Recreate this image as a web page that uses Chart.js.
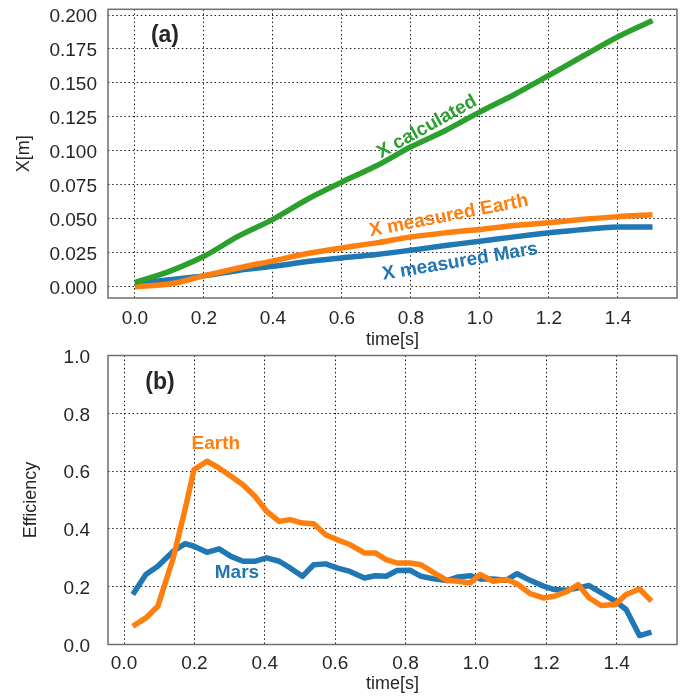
<!DOCTYPE html>
<html>
<head>
<meta charset="utf-8">
<script src="https://cdn.jsdelivr.net/npm/chart.js@4.4.1/dist/chart.umd.min.js"></script>
<style>
  body { margin: 0; background: #fff; }
  #wrap { position: relative; width: 684px; height: 696px; }
  canvas { position: absolute; left: 0; }
</style>
</head>
<body>
<div id="wrap">
  <canvas id="topChart" width="684" height="353" style="top:0"></canvas>
  <canvas id="bottomChart" width="684" height="366" style="top:330px"></canvas>
</div>
<script>
// (a) displacement
const topTime = [0.0, 0.1, 0.2, 0.3, 0.4, 0.5, 0.6, 0.7, 0.8, 0.9, 1.0, 1.1, 1.2, 1.3, 1.4, 1.5];
const xCalculated = [0.003, 0.0113, 0.0224, 0.0372, 0.0496, 0.0644, 0.077, 0.089, 0.103, 0.115, 0.1287, 0.1415, 0.1556, 0.170, 0.184, 0.196];
const xMeasuredEarth = [0.0, 0.002, 0.008, 0.0138, 0.019, 0.0244, 0.0286, 0.0323, 0.0367, 0.0397, 0.0422, 0.0451, 0.0471, 0.0496, 0.0516, 0.053];
const xMeasuredMars = [0.002, 0.0052, 0.008, 0.012, 0.015, 0.0185, 0.0212, 0.0237, 0.0269, 0.0303, 0.0335, 0.0367, 0.0397, 0.0422, 0.0439, 0.044];

// (b) efficiency
const effTime = [0.025, 0.062, 0.096, 0.14, 0.174, 0.199, 0.236, 0.27, 0.304, 0.338, 0.372, 0.405, 0.441, 0.472,
  0.507, 0.539, 0.573, 0.605, 0.642, 0.683, 0.714, 0.745, 0.776, 0.813, 0.844, 0.881, 0.918, 0.95, 0.984,
  1.012, 1.049, 1.086, 1.117, 1.154, 1.192, 1.223, 1.26, 1.291, 1.322, 1.356, 1.396, 1.427, 1.465, 1.499];
const effEarth = [0.063, 0.092, 0.132, 0.30, 0.47, 0.605, 0.634, 0.611, 0.582, 0.553, 0.513, 0.461, 0.426, 0.432,
  0.420, 0.418, 0.380, 0.363, 0.346, 0.317, 0.317, 0.294, 0.282, 0.282, 0.276, 0.248, 0.222, 0.219, 0.213,
  0.242, 0.219, 0.225, 0.210, 0.176, 0.161, 0.167, 0.184, 0.207, 0.161, 0.135, 0.138, 0.173, 0.192, 0.150];
const effMars = [0.173, 0.242, 0.271, 0.323, 0.349, 0.340, 0.319, 0.331, 0.305, 0.288, 0.288, 0.300, 0.288, 0.265,
  0.236, 0.276, 0.279, 0.265, 0.253, 0.230, 0.238, 0.236, 0.256, 0.257, 0.236, 0.227, 0.221, 0.234, 0.238,
  0.227, 0.227, 0.222, 0.245, 0.222, 0.202, 0.190, 0.188, 0.196, 0.204, 0.179, 0.150, 0.121, 0.031, 0.043];

const timeTicks = [0.0, 0.2, 0.4, 0.6, 0.8, 1.0, 1.2, 1.4];
const topYTicks = [0.0, 0.025, 0.05, 0.075, 0.1, 0.125, 0.15, 0.175, 0.2];
const effTicks = [0.0, 0.2, 0.4, 0.6, 0.8, 1.0];

const BLUE = "#1f77b4", ORANGE = "#ff7f0e", GREEN = "#2ca02c", INK = "#262626";
const FONT = "'Liberation Sans', Arial, sans-serif";

// text labels placed in data coordinates
const topNotes = [
  { text: "(a)", x: 0.087, y: 0.1846, color: INK, angle: 0, size: 23 },
  { text: "X calculated", x: 0.846, y: 0.1176, color: GREEN, angle: -29, size: 19 },
  { text: "X measured Earth", x: 0.91, y: 0.0522, color: ORANGE, angle: -11, size: 19 },
  { text: "X measured Mars", x: 0.942, y: 0.0184, color: BLUE, angle: -9.5, size: 19 }
];
const bottomNotes = [
  { text: "(b)", x: 0.102, y: 0.905, color: INK, angle: 0, size: 23 },
  { text: "Earth", x: 0.261, y: 0.694, color: ORANGE, angle: 0, size: 19 },
  { text: "Mars", x: 0.321, y: 0.247, color: BLUE, angle: 0, size: 19 }
];

const framePlugin = {
  id: "frame",
  afterDraw(chart) {
    const { ctx, chartArea: a } = chart;
    ctx.save();
    ctx.strokeStyle = "#6e6e6e";
    ctx.lineWidth = 1.5;
    ctx.strokeRect(a.left, a.top, a.right - a.left, a.bottom - a.top);
    ctx.restore();
  }
};

const notesPlugin = {
  id: "notes",
  afterDatasetsDraw(chart, args, opts) {
    const { ctx, scales } = chart;
    (opts.items || []).forEach(n => {
      ctx.save();
      ctx.translate(scales.x.getPixelForValue(n.x), scales.y.getPixelForValue(n.y));
      ctx.rotate(n.angle * Math.PI / 180);
      ctx.font = `bold ${n.size}px ${FONT}`;
      ctx.fillStyle = n.color;
      ctx.textAlign = "center";
      ctx.textBaseline = "middle";
      ctx.fillText(n.text, 0, 0);
      ctx.restore();
    });
  }
};

function series(xs, ys, color, order, tension) {
  return {
    data: xs.map((x, i) => ({ x: x, y: ys[i] })),
    borderColor: color,
    borderWidth: 5.5,
    pointRadius: 0,
    tension: tension,
    borderJoinStyle: "round",
    order: order
  };
}

// stop the label overhang from pushing the plot area around
function noOverhang(s) {
  s.paddingTop = 0;
  s.paddingBottom = 0;
  s.paddingLeft = 0;
  s.paddingRight = 0;
}

function makeChart(id, datasets, o) {
  const gridOpts = { color: "#1a1a1a", lineWidth: 1, drawTicks: false };
  return new Chart(document.getElementById(id), {
    type: "line",
    data: { datasets: datasets },
    plugins: [framePlugin, notesPlugin],
    options: {
      responsive: false,
      devicePixelRatio: 1,
      animation: false,
      layout: { padding: { top: o.top, right: 7, left: 0, bottom: 0 } },
      plugins: { legend: { display: false }, tooltip: { enabled: false }, notes: { items: o.notes } },
      scales: {
        x: {
          type: "linear", min: o.xMin, max: o.xMax,
          grid: gridOpts,
          border: { display: false, dash: [1.5, 2.6] },
          afterBuildTicks: s => { s.ticks = timeTicks.map(v => ({ value: v })); },
          afterFit: s => { s.height = o.xHeight; noOverhang(s); },
          ticks: { padding: o.xPad, color: INK, font: { family: FONT, size: 19 }, callback: v => v.toFixed(1) },
          title: { display: true, text: "time[s]", color: INK, font: { family: FONT, size: 18 }, padding: { top: 0, bottom: o.xTitlePad } }
        },
        y: {
          type: "linear", min: o.yMin, max: o.yMax,
          grid: gridOpts,
          border: { display: false, dash: [1.5, 2.6] },
          afterBuildTicks: s => { s.ticks = o.yTicks.map(v => ({ value: v })); },
          afterFit: s => { s.width = 108; noOverhang(s); },
          ticks: { padding: o.yPad, labelOffset: 2, color: INK, font: { family: FONT, size: 19 }, callback: v => v.toFixed(o.digits) },
          title: { display: true, text: o.yTitle, color: INK, font: { family: FONT, size: 18 }, padding: { top: o.yTitlePad, bottom: o.yTitlePad } }
        }
      }
    }
  });
}

makeChart("topChart", [
  series(topTime, xCalculated, GREEN, 0, 0.3),
  series(topTime, xMeasuredEarth, ORANGE, 1, 0.3),
  series(topTime, xMeasuredMars, BLUE, 2, 0.3)
], {
  top: 9.3, xMin: -0.078, xMax: 1.571, yMin: -0.0083, yMax: 0.2042, xHeight: 55,
  yTicks: topYTicks, digits: 3, yTitle: "X[m]",
  xPad: 9, yPad: 11, xTitlePad: 2, yTitlePad: 13, notes: topNotes
});

makeChart("bottomChart", [
  series(effTime, effEarth, ORANGE, 0, 0),
  series(effTime, effMars, BLUE, 1, 0)
], {
  top: 25.5, xMin: -0.0455, xMax: 1.5716, yMin: 0, yMax: 1, xHeight: 51.5,
  yTicks: effTicks, digits: 1, yTitle: "Efficiency",
  xPad: 8, yPad: 18, xTitlePad: 1, yTitlePad: 20, notes: bottomNotes
});
</script>
</body>
</html>
